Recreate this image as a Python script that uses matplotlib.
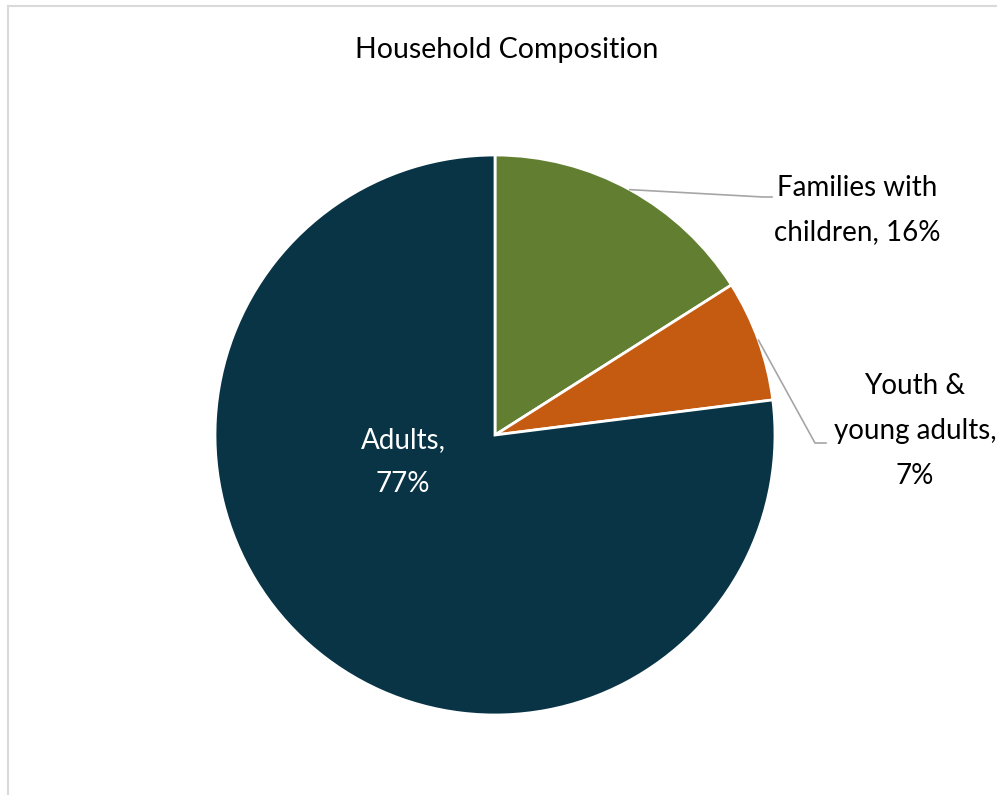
import numpy as np
import matplotlib
matplotlib.use("Agg")
import matplotlib.pyplot as plt
from matplotlib.lines import Line2D

plt.rcParams["font.family"] = ["Lato", "DejaVu Sans"]

# --- data ---------------------------------------------------------------------
categories = ["Families with\nchildren", "Youth &\nyoung adults", "Adults"]
shares = [16, 7, 77]
colors = ["#627F31", "#C55A11", "#083445"]

W, H = 997, 795
CX, CY, R = 495, 435, 280  # pie centre / radius in pixels


def to_data(px, py):
    return (px - CX) / R, (CY - py) / R


fig = plt.figure(figsize=(W / 100, H / 100), dpi=100)
ax = fig.add_axes([(CX - R) / W, (H - CY - R) / H, 2 * R / W, 2 * R / H])

wedges, _ = ax.pie(shares, colors=colors, startangle=90, counterclock=False,
                   radius=1, wedgeprops=dict(edgecolor="white", linewidth=2))
ax.set_xlim(-1, 1)
ax.set_ylim(-1, 1)
ax.set_aspect("equal")
ax.axis("off")


# leader lines start at the middle of the wedge arc
def mid_point(w):
    a = np.deg2rad((w.theta1 + w.theta2) / 2)
    return np.cos(a), np.sin(a)


lead = "#A6A6A6"
x0, y0 = mid_point(wedges[0])
x1, y1 = to_data(763, 197)
x2, y2 = to_data(772, 197)
ax.plot([x0, x1, x2], [y0, y1, y2], color=lead, lw=1.2, clip_on=False)

x0, y0 = mid_point(wedges[1])
x1, y1 = to_data(815, 443)
x2, y2 = to_data(826, 443)
ax.plot([x0, x1, x2], [y0, y1, y2], color=lead, lw=1.2, clip_on=False)

fs = 20
ls = 1.9
ax.text(*to_data(857, 210), f"{categories[0]}, {shares[0]}%", ha="center", va="center",
        fontsize=fs, linespacing=ls, color="black")
ax.text(*to_data(915, 431), f"{categories[1]},\n{shares[1]}%", ha="center", va="center",
        fontsize=fs, linespacing=ls, color="black")
ax.text(*to_data(403, 462), f"{categories[2]},\n{shares[2]}%", ha="center", va="center",
        fontsize=fs, linespacing=ls, color="white")

fig.text(507 / W, 1 - 50 / H, "Household Composition", ha="center", va="center",
         fontsize=20.5, color="black")

# chart-area border (top and left visible)
fig.add_artist(Line2D([8 / W, 8 / W], [0, 1 - 6 / H], color="#D9D9D9", lw=1.5))
fig.add_artist(Line2D([8 / W, 1], [1 - 6 / H, 1 - 6 / H], color="#D9D9D9", lw=1.5))

fig.savefig("out.png", dpi=100, facecolor="white")
